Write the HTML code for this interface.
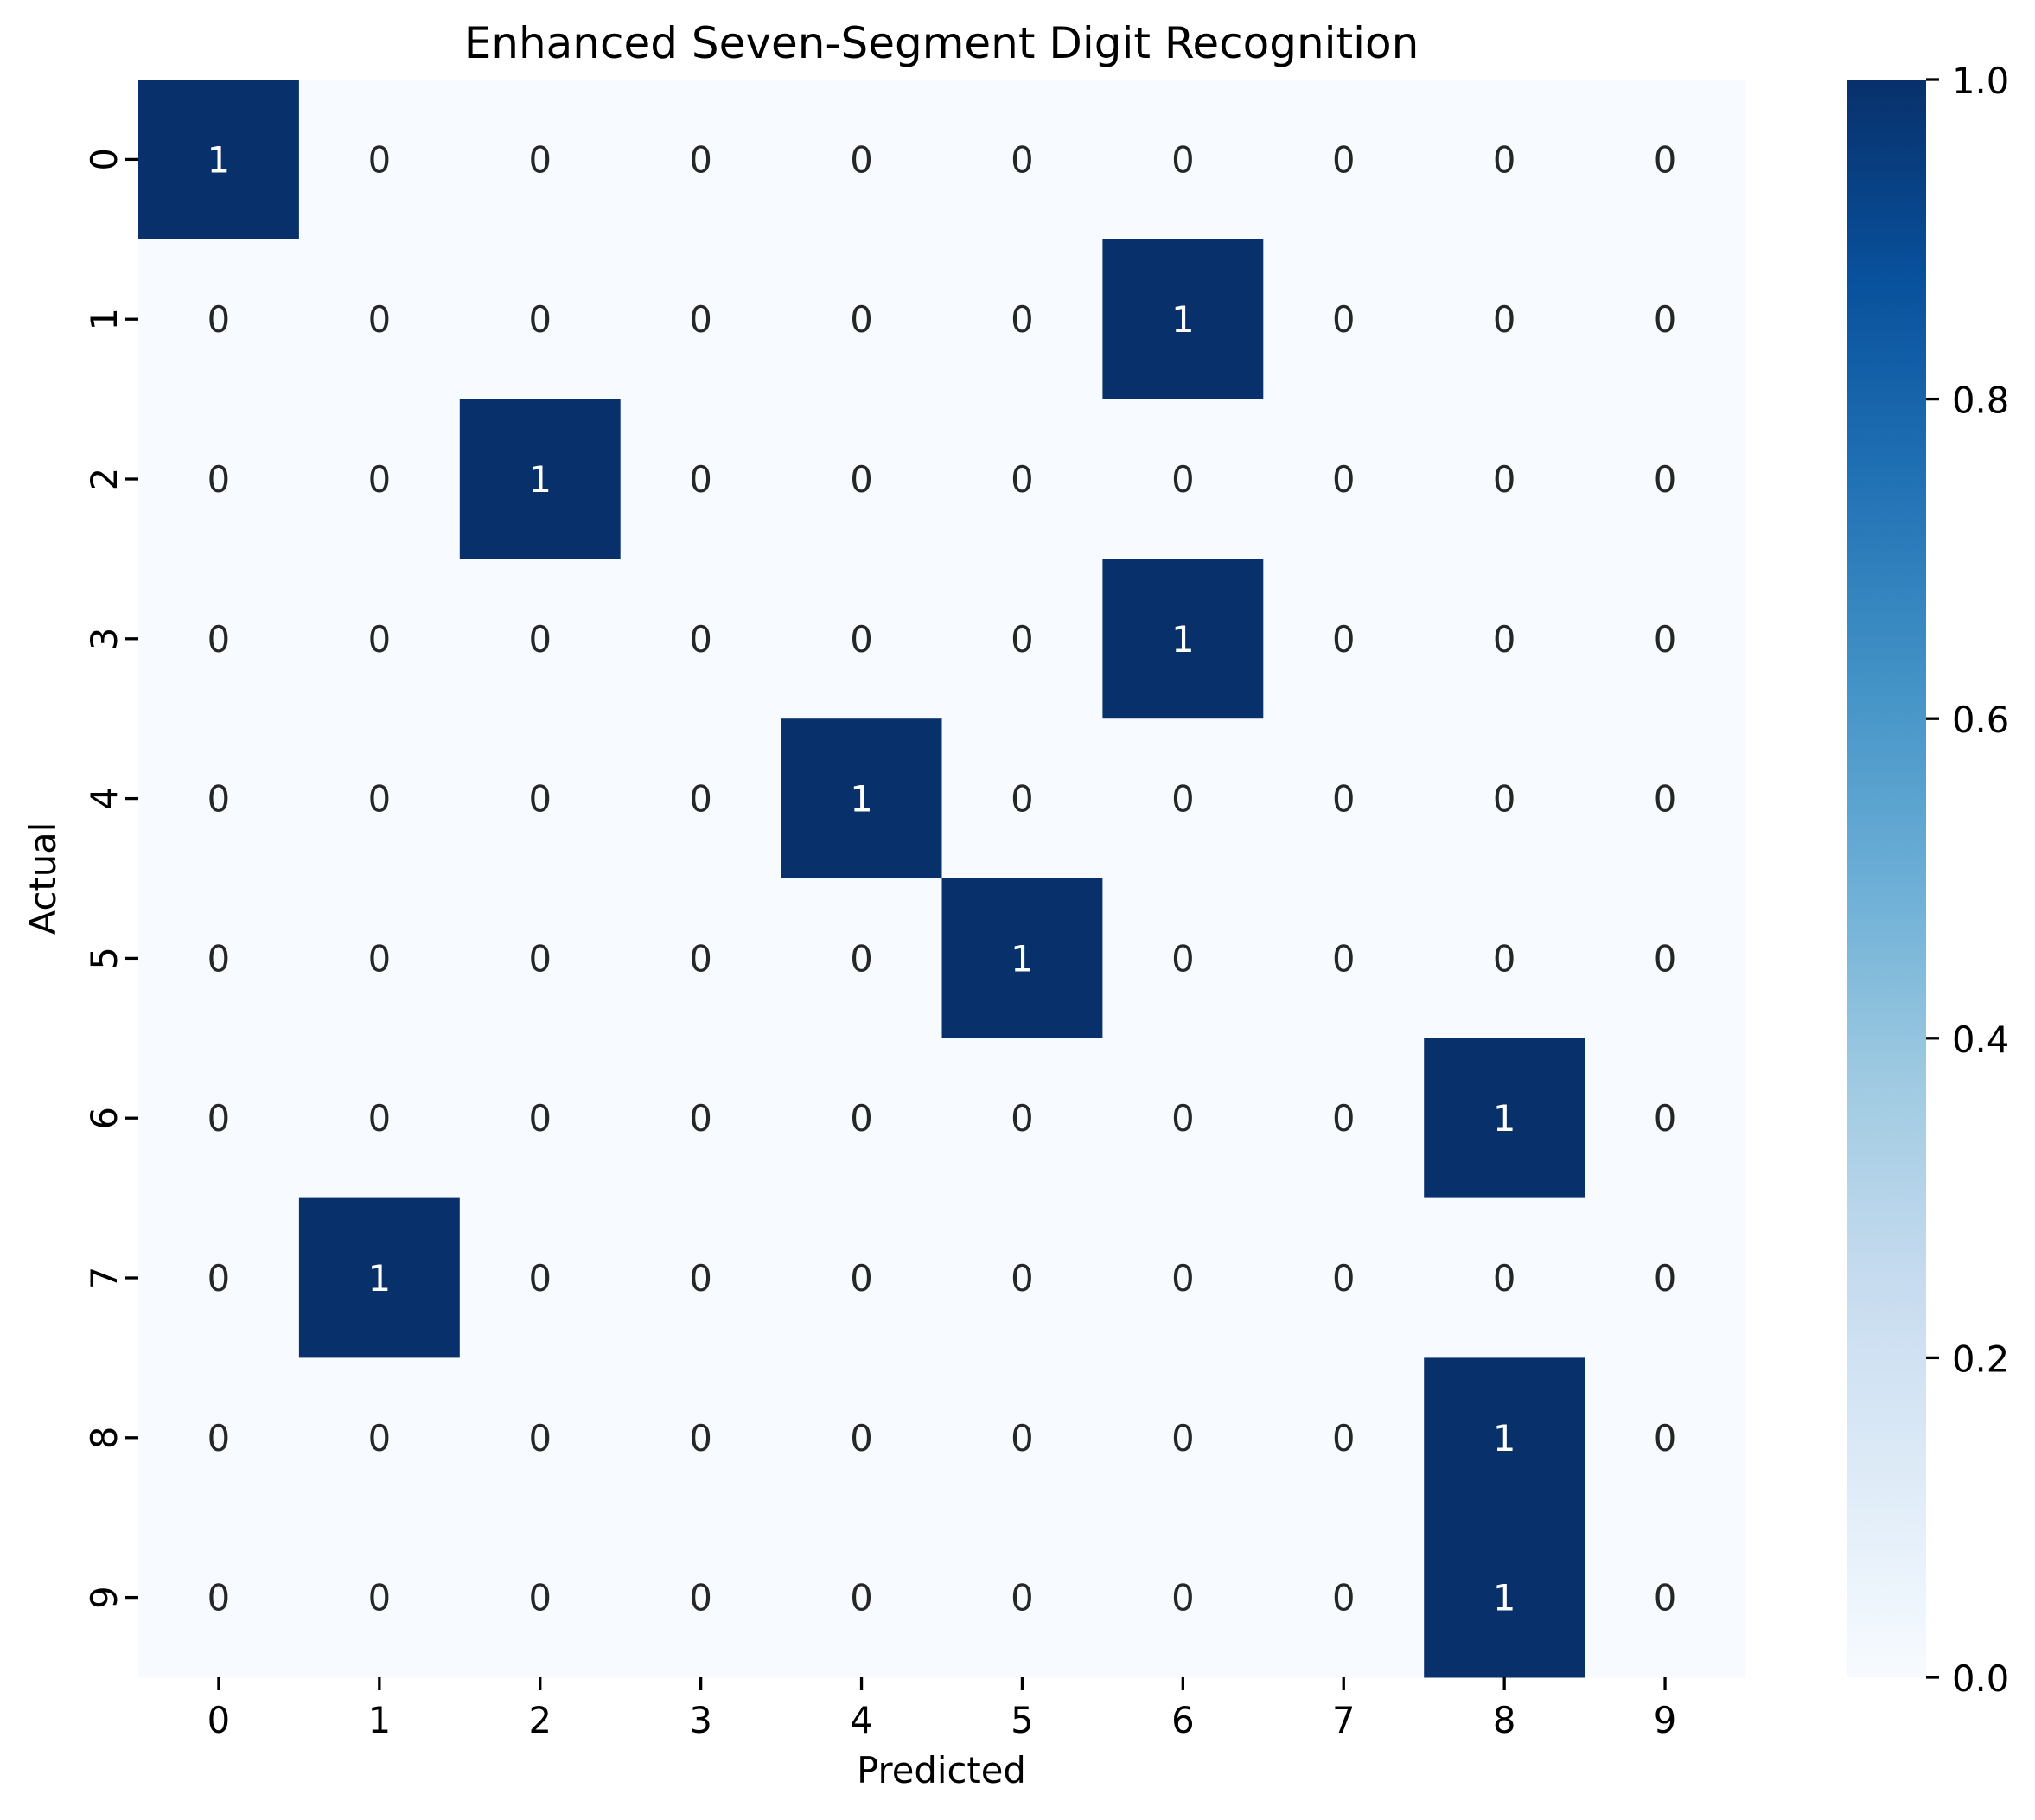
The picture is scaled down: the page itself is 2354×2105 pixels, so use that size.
<!DOCTYPE html>
<html><head><meta charset="utf-8"><style>
body{margin:0;background:#fff;}
svg text{font-family:"DejaVu Sans","Liberation Sans",sans-serif;}
</style></head><body>
<svg id="chart" width="2354" height="2100" xmlns="http://www.w3.org/2000/svg">
<defs>
<linearGradient id="blues" x1="0" y1="1" x2="0" y2="0">
<stop offset="0" stop-color="#f7fbff"/><stop offset="0.125" stop-color="#deebf7"/>
<stop offset="0.25" stop-color="#c6dbef"/><stop offset="0.375" stop-color="#9ecae1"/>
<stop offset="0.5" stop-color="#6baed6"/><stop offset="0.625" stop-color="#4292c6"/>
<stop offset="0.75" stop-color="#2171b5"/><stop offset="0.875" stop-color="#08519c"/>
<stop offset="1" stop-color="#08306b"/></linearGradient>
</defs>
<text x="1089" y="67" font-size="50" text-anchor="middle" fill="#000">Enhanced Seven-Segment Digit Recognition</text>
<g id="cells"></g>
<g id="axes"></g>
<text x="1089" y="2062" font-size="41.7" text-anchor="middle">Predicted</text>
<text transform="translate(64,1016) rotate(-90)" font-size="41.7" text-anchor="middle">Actual</text>
<rect x="2136" y="92" width="92" height="1848" fill="url(#blues)"/>
<g id="cbar"></g>
</svg>
<script>
const labels = ["0","1","2","3","4","5","6","7","8","9"];
const predicted = [0,6,2,6,4,5,8,1,8,8];
const cbarTicks = [0,0.2,0.4,0.6,0.8,1.0];
const L=160,T=92,W=1859,H=1848,n=labels.length,cw=W/n,ch=H/n;
const NS="http://www.w3.org/2000/svg";
function mk(tag,attrs,parent,txt){const e=document.createElementNS(NS,tag);for(const k in attrs)e.setAttribute(k,attrs[k]);if(txt!==undefined)e.textContent=txt;parent.appendChild(e);return e;}
const cells=document.getElementById('cells'),axes=document.getElementById('axes'),cb=document.getElementById('cbar');
const xs=i=>L+i*cw, ys=i=>T+i*ch;
for(let r=0;r<n;r++)for(let k=0;k<n;k++){
 const v=predicted[r]===k?1:0;
 const rc=mk('rect',{x:xs(k),y:ys(r),width:cw+0.5,height:ch+0.5,fill:v?'#08306b':'#f7fbff'},cells);
 
 
 const t=mk('text',{x:xs(k)+cw/2,y:ys(r)+ch/2+15,'font-size':41.7,'text-anchor':'middle',fill:v?'#fff':'#262626'},cells,String(v));
 
 
}
labels.forEach((lb,i)=>{
 mk('line',{x1:xs(i)+cw/2,x2:xs(i)+cw/2,y1:T+H,y2:T+H+15,stroke:'#000','stroke-width':3.3},axes);
 const tx=mk('text',{x:xs(i)+cw/2,y:T+H+64,'font-size':41.7,'text-anchor':'middle'},axes,lb);
 
 
 mk('line',{x1:L-15,x2:L,y1:ys(i)+ch/2,y2:ys(i)+ch/2,stroke:'#000','stroke-width':3.3},axes);
 const ty=mk('text',{transform:`translate(${L-25},${ys(i)+ch/2}) rotate(-90)`,'font-size':41.7,'text-anchor':'middle'},axes,lb);
 
 
});
cbarTicks.forEach(v=>{
 const y=T+H-v*H;
 mk('line',{x1:2228,x2:2243,y1:y,y2:y,stroke:'#000','stroke-width':3.3},cb);
 const t=mk('text',{x:2258,y:y+16,'font-size':41.7},cb,v.toFixed(1));
 
 
});
</script>
</body></html>
